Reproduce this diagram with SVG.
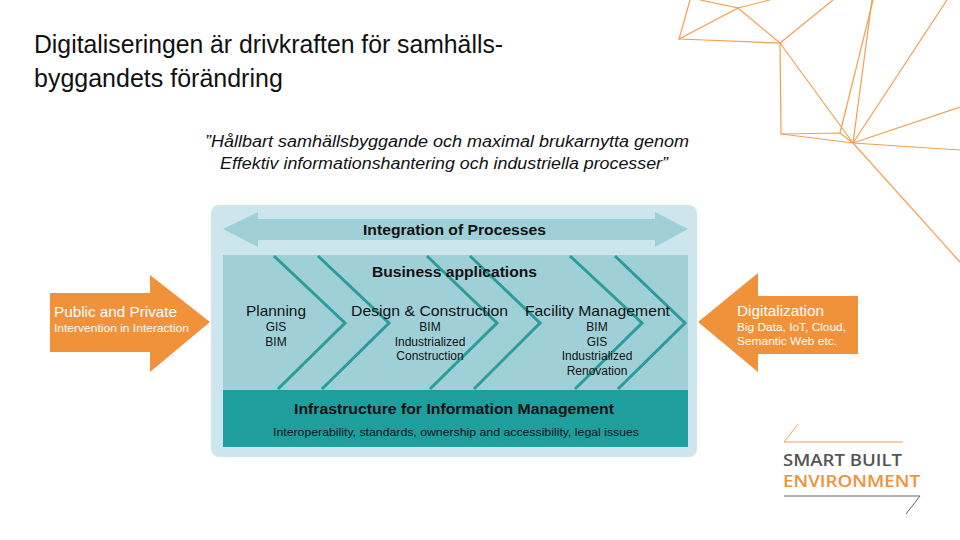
<svg xmlns="http://www.w3.org/2000/svg" width="960" height="540" viewBox="0 0 960 540">
<style>
.t{font-family:"Liberation Sans",Arial,sans-serif;fill:#111}
.b{font-weight:bold}
.w{font-family:"Liberation Sans",Arial,sans-serif;fill:#fff}
.deco{stroke:#f0a050;stroke-width:1.2;fill:none}
.chev{stroke:#2a9c9c;stroke-width:3;fill:none}
</style>
<rect width="960" height="540" fill="#fff"/>
<g id="deco" class="deco">
<polyline points="690,0 679,39 738,8 700,0"/>
<polyline points="738,8 770,0"/>
<polyline points="679,39 780,43 738,8"/>
<polyline points="780,43 833,0"/>
<polyline points="780,43 781,134 840,133 853,143 780,43"/>
<polyline points="781,134 853,143"/>
<polyline points="840,133 873,0"/>
<polyline points="853,143 872,0"/>
<polyline points="853,143 947,0"/>
<polyline points="853,143 960,107"/>
<polyline points="853,143 960,150"/>
<polyline points="853,143 960,262"/>
</g>
<g id="title">
<text class="t" x="34" y="53" font-size="25" textLength="469" lengthAdjust="spacingAndGlyphs">Digitaliseringen är drivkraften för samhälls-</text>
<text class="t" x="34" y="87" font-size="25">byggandets förändring</text>
</g>
<g id="quote" font-style="italic">
<text class="t" x="205" y="147" font-size="16" textLength="484" lengthAdjust="spacingAndGlyphs">”Hållbart samhällsbyggande och maximal brukarnytta genom</text>
<text class="t" x="220" y="169" font-size="16" textLength="448" lengthAdjust="spacingAndGlyphs">Effektiv informationshantering och industriella processer”</text>
</g>
<g id="frame">
<rect x="211" y="205" width="486" height="252" rx="8" fill="#cde6ee"/>
</g>
<g id="integration">
<polygon points="223,229 258,212 258,219 655,219 655,212 688,229 655,247 655,240 258,240 258,247" fill="#9fd0d8"/>
<text class="t b" x="363" y="235" font-size="14" textLength="183" lengthAdjust="spacingAndGlyphs">Integration of Processes</text>
</g>
<g id="business">
<rect x="223" y="255" width="465" height="135" fill="#9fd0d8"/>
</g>
<g id="connectors">
<polyline class="chev" points="274,256 345,323 278,389"/>
<polyline class="chev" points="318,256 389,323 322,389"/>
<polyline class="chev" points="427,256 497,323 430,389"/>
<polyline class="chev" points="470,256 540,323 474,389"/>
<polyline class="chev" points="570,256 642,323 575,389"/>
<polyline class="chev" points="615,256 685,323 618,389"/>
</g>
<g id="business-text">
<text class="t b" x="372" y="277" font-size="14" textLength="165" lengthAdjust="spacingAndGlyphs">Business applications</text>
<text class="t" x="246" y="316" font-size="15" textLength="60" lengthAdjust="spacingAndGlyphs">Planning</text>
<text class="t" x="276" y="331" font-size="12" text-anchor="middle">GIS</text>
<text class="t" x="276" y="346" font-size="12" text-anchor="middle">BIM</text>
<text class="t" x="351" y="316" font-size="15" textLength="157" lengthAdjust="spacingAndGlyphs">Design &amp; Construction</text>
<text class="t" x="430" y="331" font-size="12" text-anchor="middle">BIM</text>
<text class="t" x="430" y="346" font-size="12" text-anchor="middle">Industrialized</text>
<text class="t" x="430" y="360" font-size="12" text-anchor="middle">Construction</text>
<text class="t" x="525" y="316" font-size="15" textLength="145" lengthAdjust="spacingAndGlyphs">Facility Management</text>
<text class="t" x="597" y="331" font-size="12" text-anchor="middle">BIM</text>
<text class="t" x="597" y="346" font-size="12" text-anchor="middle">GIS</text>
<text class="t" x="597" y="360" font-size="12" text-anchor="middle">Industrialized</text>
<text class="t" x="597" y="375" font-size="12" text-anchor="middle">Renovation</text>
</g>
<g id="infrastructure">
<rect x="223" y="390" width="465" height="57" fill="#1f9e9e"/>
<text class="t b" x="294" y="414" font-size="14" textLength="320" lengthAdjust="spacingAndGlyphs">Infrastructure for Information Management</text>
<text class="t" x="273" y="436" font-size="11" textLength="366" lengthAdjust="spacingAndGlyphs">Interoperability, standards, ownership and accessibility, legal issues</text>
</g>
<g id="public">
<polygon points="50,293 150,293 150,275 210,322 150,372 150,352 50,352" fill="#f0923a"/>
<text class="w" x="54" y="317" font-size="14" textLength="123" lengthAdjust="spacingAndGlyphs">Public and Private</text>
<text class="w" x="54" y="332" font-size="11" textLength="135" lengthAdjust="spacingAndGlyphs">Intervention in Interaction</text>
</g>
<g id="digitalization">
<polygon points="698,322 758,273 758,296 858,296 858,354 758,354 758,372" fill="#f0923a"/>
<text class="w" x="737" y="316" font-size="14" textLength="87" lengthAdjust="spacingAndGlyphs">Digitalization</text>
<text class="w" x="737" y="331" font-size="11" textLength="109" lengthAdjust="spacingAndGlyphs">Big Data, IoT, Cloud,</text>
<text class="w" x="737" y="345" font-size="11" textLength="100" lengthAdjust="spacingAndGlyphs">Semantic Web etc.</text>
</g>
<g id="logo">
<line x1="784" y1="442" x2="903" y2="442" stroke="#f0a050" stroke-width="1.2"/>
<line x1="784" y1="442" x2="798" y2="424" stroke="#f0a050" stroke-width="1"/>
<text x="783" y="466" font-size="17" font-weight="600" font-family="Open Sans,Liberation Sans,sans-serif" fill="#555" textLength="119" lengthAdjust="spacingAndGlyphs">SMART BUILT</text>
<text x="783" y="487" font-size="17" font-weight="600" font-family="Open Sans,Liberation Sans,sans-serif" fill="#f0923a" textLength="137" lengthAdjust="spacingAndGlyphs">ENVIRONMENT</text>
<line x1="784" y1="496" x2="920" y2="496" stroke="#666" stroke-width="1"/>
<line x1="920" y1="496" x2="906" y2="514" stroke="#666" stroke-width="1"/>
</g>
</svg>
